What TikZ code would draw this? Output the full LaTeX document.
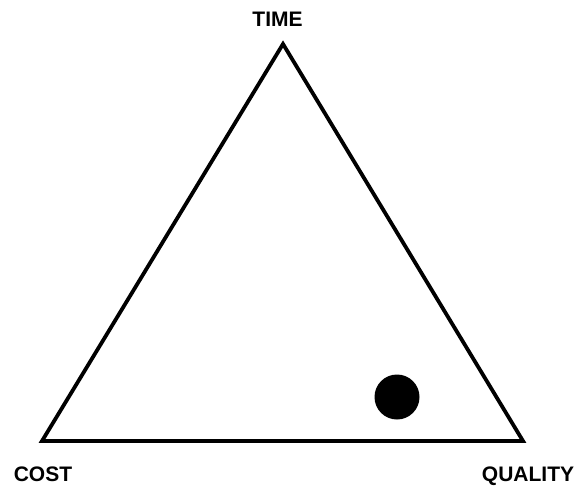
\documentclass[tikz,border=0pt]{standalone}
\usepackage{fontspec}
\setmainfont{Liberation Sans}
\begin{document}
\begin{tikzpicture}[x=1pt,y=-1pt,
  lbl/.style={font=\fontsize{21}{21}\selectfont\bfseries, inner sep=0pt, anchor=base},
  edge/.style={line width=3.8pt, line join=miter}]
\useasboundingbox (0,0) rectangle (578,485);
\coordinate (t) at (283,44);
\coordinate (c) at (42,441);
\coordinate (q) at (523,441);
\draw[edge] (t) -- (c) -- (q) -- cycle;
\node[fill=black, circle, minimum size=45pt, inner sep=0pt] (dot) at (397,397) {};
\node[lbl] (time) at (277.5,26) {TIME};
\node[lbl] (cost) at (43,481) {COST};
\node[lbl] (quality) at (528,481) {QUALITY};
\end{tikzpicture}
\end{document}
